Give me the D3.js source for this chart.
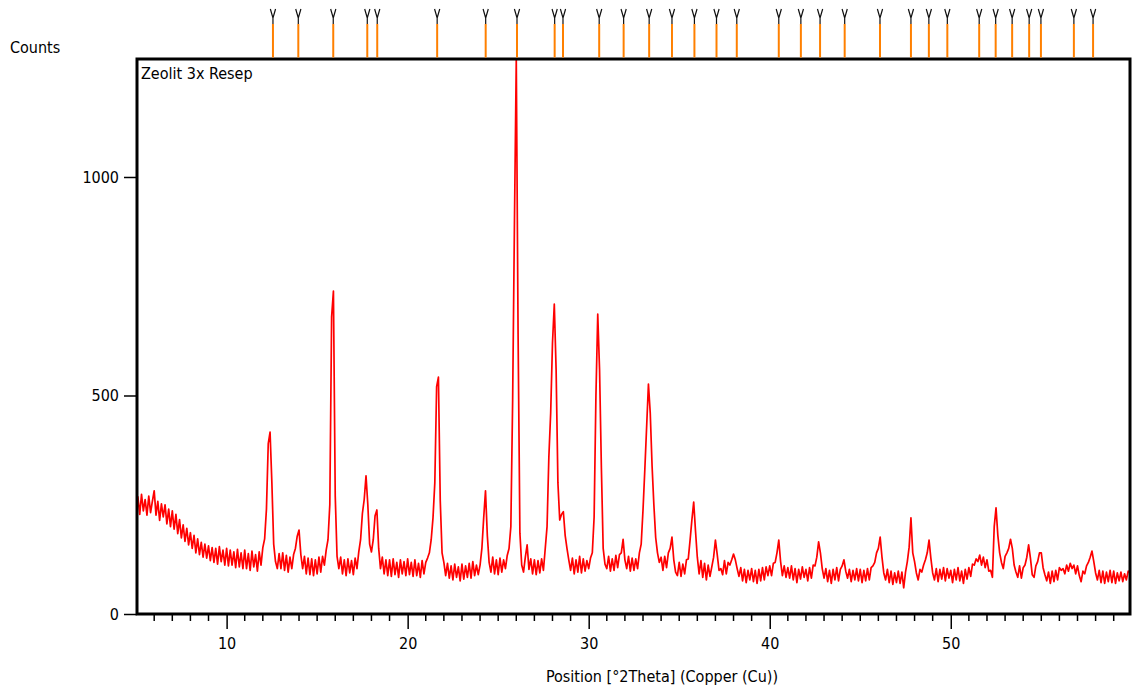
<!DOCTYPE html>
<html>
<head>
<meta charset="utf-8">
<script src="https://cdn.jsdelivr.net/npm/d3@7"></script>
<style>
  html, body { margin: 0; padding: 0; background: #ffffff; }
  svg { display: block; }
  text { font-family: "DejaVu Sans Condensed", "DejaVu Sans", sans-serif; fill: #000; }
</style>
</head>
<body>
<svg id="chart" width="1133" height="687"></svg>
<script>
// ---------- DATA ----------
const seriesName = "Zeolit 3x Resep";
const yAxisTitle = "Counts";
const xAxisTitle = "Position [°2Theta] (Copper (Cu))";
const scanStart = 5.0;   // °2θ
const scanStep = 0.1;    // °2θ
// counts, one row per degree (x.0 .. x.9)
const counts = [
  240, 268, 228, 274, 236, 262, 226, 270, 232, 258,   // 5
  282, 226, 258, 214, 252, 222, 250, 206, 240, 200,   // 6
  236, 194, 228, 184, 216, 174, 204, 166, 196, 158,   // 7
  186, 150, 180, 140, 172, 136, 164, 130, 160, 128,   // 8
  156, 122, 152, 118, 150, 114, 154, 120, 146, 112,   // 9
  150, 110, 146, 112, 142, 106, 148, 108, 140, 104,   // 10
  146, 104, 138, 100, 144, 108, 136, 98, 142, 112,    // 11
  152, 172, 240, 390, 416, 300, 160, 120, 104, 138,   // 12
  104, 140, 100, 134, 96, 130, 104, 136, 150, 178,    // 13
  192, 136, 104, 132, 92, 128, 90, 126, 88, 124,      // 14
  92, 130, 96, 132, 112, 146, 170, 250, 680, 739,     // 15
  270, 132, 104, 130, 92, 124, 88, 126, 94, 122,      // 16
  90, 128, 104, 142, 170, 230, 262, 316, 250, 160,    // 17
  142, 170, 225, 238, 150, 104, 130, 92, 124, 88,     // 18
  124, 86, 126, 90, 118, 84, 124, 92, 120, 88,        // 19
  126, 90, 118, 86, 124, 88, 116, 84, 122, 92,        // 20
  118, 128, 140, 170, 220, 300, 520, 542, 260, 140,   // 21
  118, 88, 116, 82, 110, 78, 114, 84, 108, 76,        // 22
  114, 80, 110, 84, 116, 82, 120, 88, 112, 90,        // 23
  112, 150, 220, 282, 180, 118, 96, 130, 92, 124,     // 24
  90, 128, 96, 124, 104, 134, 150, 200, 490, 900,     // 25
  1270, 640, 185, 112, 96, 130, 158, 102, 126, 92,    // 26
  124, 90, 122, 94, 126, 100, 150, 200, 360, 460,     // 27
  620, 709, 560, 300, 215, 228, 234, 180, 150, 124,   // 28
  100, 128, 92, 124, 96, 132, 94, 126, 98, 122,       // 29
  104, 128, 140, 222, 500, 686, 560, 336, 150, 114,   // 30
  104, 132, 98, 126, 100, 134, 106, 136, 140, 171,    // 31
  124, 104, 132, 98, 128, 100, 126, 104, 140, 160,    // 32
  238, 330, 428, 526, 460, 340, 250, 175, 140, 118,   // 33
  130, 100, 132, 106, 140, 150, 176, 124, 96, 88,     // 34
  118, 86, 114, 92, 124, 126, 169, 215, 256, 190,     // 35
  130, 92, 122, 84, 116, 78, 112, 86, 108, 130,       // 36
  169, 136, 100, 104, 90, 122, 92, 118, 112, 124,     // 37
  137, 124, 104, 86, 106, 76, 102, 72, 100, 78,       // 38
  104, 74, 100, 70, 102, 76, 106, 78, 108, 88,        // 39
  110, 88, 116, 118, 140, 169, 120, 88, 110, 84,      // 40
  106, 82, 110, 78, 104, 72, 102, 80, 108, 84,        // 41
  102, 76, 106, 82, 112, 110, 130, 165, 140, 104,     // 42
  82, 104, 74, 100, 70, 102, 78, 106, 76, 102,        // 43
  110, 124, 98, 82, 102, 74, 100, 78, 104, 76,        // 44
  102, 72, 100, 76, 104, 78, 106, 110, 118, 140,      // 45
  150, 176, 130, 94, 78, 102, 72, 98, 68, 94,         // 46
  72, 98, 70, 96, 60, 96, 120, 153, 220, 140,         // 47
  120, 94, 78, 102, 96, 112, 124, 140, 169, 128,      // 48
  94, 78, 104, 74, 102, 80, 106, 76, 104, 82,         // 49
  100, 72, 102, 78, 106, 76, 98, 70, 102, 80,         // 50
  106, 86, 114, 112, 126, 120, 135, 112, 130, 106,    // 51
  124, 98, 100, 84, 200, 243, 180, 140, 118, 104,     // 52
  132, 140, 150, 171, 150, 112, 96, 84, 110, 82,      // 53
  106, 112, 130, 158, 128, 90, 84, 110, 120, 140,     // 54
  140, 106, 90, 76, 96, 70, 98, 74, 100, 78,          // 55
  106, 100, 104, 92, 112, 98, 116, 104, 112, 92,      // 56
  110, 88, 74, 98, 92, 110, 118, 130, 144, 120,       // 57
  94, 78, 100, 72, 98, 70, 96, 74, 100, 72,           // 58
  98, 70, 94, 76, 96, 74, 92, 78, 98, 96              // 59
];
// reference pattern stick positions (°2θ)
const refPeaks = [12.56, 13.96, 15.89, 17.77, 18.32, 21.63, 24.31, 26.04, 28.12, 28.58,
  30.58, 31.93, 33.34, 34.60, 35.84, 37.06, 38.18, 40.50, 41.72, 42.78, 44.14, 46.09,
  47.80, 48.79, 49.81, 51.57, 52.48, 53.39, 54.33, 54.98, 56.80, 57.86];
const xTicks = [10, 20, 30, 40, 50];
const yTicks = [0, 500, 1000];
const xDomain = [5.05, 59.9];
const yDomain = [0, 1270];

// ---------- LAYOUT ----------
const svg = d3.select("#chart");
const L = 137, R = 1130, T = 59, B = 614;
const x = d3.scaleLinear().domain(xDomain).range([L, R]);
const y = d3.scaleLinear().domain(yDomain).range([B, T]);

const pts = counts.map((c, i) => [scanStart + i * scanStep, c]);

svg.append("defs").append("clipPath").attr("id", "plotClip")
  .append("rect").attr("x", L).attr("y", T - 2).attr("width", R - L).attr("height", B - T + 2);

// data line
svg.append("path")
  .datum(pts)
  .attr("clip-path", "url(#plotClip)")
  .attr("fill", "none")
  .attr("stroke", "#ff0000")
  .attr("stroke-width", 1.7)
  .attr("stroke-linejoin", "round")
  .attr("d", d3.line().x(d => x(d[0])).y(d => Math.max(T, y(d[1]))));

// frame
svg.append("rect")
  .attr("x", L).attr("y", T).attr("width", R - L).attr("height", B - T)
  .attr("fill", "none").attr("stroke", "#000").attr("stroke-width", 3);

// x axis
const xMinor = d3.range(6, 60, 1).filter(v => !xTicks.includes(v));
svg.append("g").selectAll("line").data(xMinor).join("line")
  .attr("x1", d => x(d)).attr("x2", d => x(d))
  .attr("y1", B).attr("y2", B + 7)
  .attr("stroke", "#000").attr("stroke-width", 1.5);
const xAxis = d3.axisBottom(x).tickValues(xTicks).tickSize(15).tickPadding(9)
  .tickFormat(d3.format("d"));
const gx = svg.append("g").attr("transform", `translate(0,${B})`).call(xAxis);
gx.select(".domain").remove();
gx.selectAll(".tick line").attr("stroke", "#000").attr("stroke-width", 1.5);
gx.selectAll(".tick text").attr("font-size", 16).attr("font-family", null).attr("fill", "#000");

// y axis
const yAxis = d3.axisLeft(y).tickValues(yTicks).tickSize(13).tickPadding(5)
  .tickFormat(d3.format("d"));
const gy = svg.append("g").attr("transform", `translate(${L},0)`).call(yAxis);
gy.select(".domain").remove();
gy.selectAll(".tick line").attr("stroke", "#000").attr("stroke-width", 1.5);
gy.selectAll(".tick text").attr("font-size", 16).attr("font-family", null).attr("fill", "#000");

// reference sticks
const sticks = svg.append("g");
sticks.selectAll("line.stick").data(refPeaks).join("line")
  .attr("class", "stick")
  .attr("x1", d => x(d)).attr("x2", d => x(d))
  .attr("y1", 24).attr("y2", T - 1.5)
  .attr("stroke", "#ff8000").attr("stroke-width", 2);
sticks.selectAll("path.vmark").data(refPeaks).join("path")
  .attr("class", "vmark")
  .attr("d", d => `M${x(d) - 2.6},9 L${x(d)},18 L${x(d) + 2.6},9 M${x(d)},18 L${x(d)},24`)
  .attr("fill", "none").attr("stroke", "#111").attr("stroke-width", 1.2);

// texts
svg.append("text").attr("x", 10).attr("y", 53).attr("font-size", 16).text(yAxisTitle);
svg.append("text").attr("x", 141).attr("y", 79).attr("font-size", 16).text(seriesName);
svg.append("text").attr("x", 662).attr("y", 682).attr("font-size", 16)
  .attr("text-anchor", "middle").text(xAxisTitle);
</script>
</body>
</html>
